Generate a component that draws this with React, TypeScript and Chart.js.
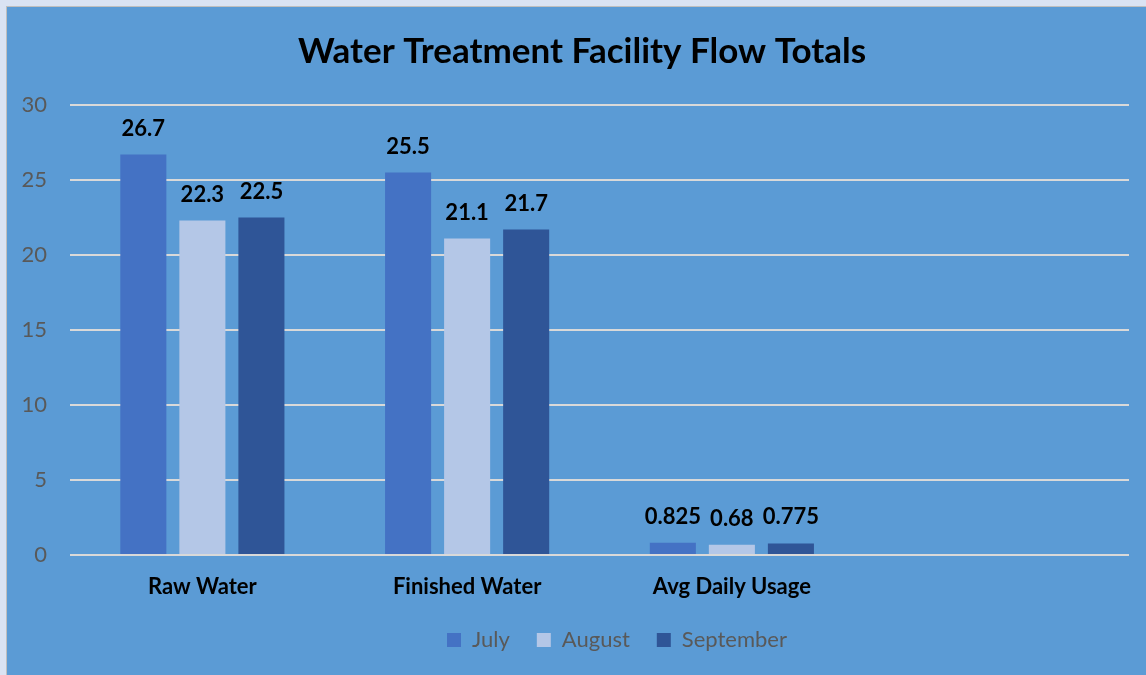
import React, { useEffect, useRef } from "react";
import { Chart, registerables } from "chart.js";

Chart.register(...registerables);

const categories = ["Raw Water", "Finished Water", "Avg Daily Usage", ""];
const seriesNames = ["July", "August", "September"];
const julyValues = [26.7, 25.5, 0.825, null];
const augustValues = [22.3, 21.1, 0.68, null];
const septemberValues = [22.5, 21.7, 0.775, null];
const seriesColors = ["#4472c4", "#b4c7e7", "#2f5597"];
const yMin = 0;
const yMax = 30;
const yStep = 5;
const titleText = "Water Treatment Facility Flow Totals";

const FONT = "Lato, 'Open Sans', sans-serif";

const valueLabels = {
  id: "valueLabels",
  afterDatasetsDraw(chart: any) {
    const ctx = chart.ctx;
    ctx.save();
    ctx.font = `bold 22px ${FONT}`;
    ctx.fillStyle = "#000000";
    ctx.textAlign = "center";
    ctx.textBaseline = "middle";
    chart.data.datasets.forEach((ds: any, i: number) => {
      const meta = chart.getDatasetMeta(i);
      meta.data.forEach((el: any, j: number) => {
        const v = ds.data[j];
        if (v == null) return;
        ctx.fillText(String(v), el.x, el.y - 26);
      });
    });
    ctx.restore();
  },
};

const centerShift = {
  id: "centerShift",
  beforeDraw(chart: any) {
    const shift = (box: any, target: number) => {
      if (!box) return;
      const c = (box.left + box.right) / 2;
      const d = target - c;
      box.left += d;
      box.right += d;
    };
    shift(chart.titleBlock, 575);
    shift(chart.legend, 610);
  },
};

export default function App() {
  const ref = useRef<HTMLCanvasElement>(null);

  useEffect(() => {
    if (!ref.current) return;
    const chart = new Chart(ref.current, {
      type: "bar",
      data: {
        labels: categories,
        datasets: [julyValues, augustValues, septemberValues].map((d, i) => ({
          label: seriesNames[i],
          data: d,
          backgroundColor: seriesColors[i],
          borderWidth: 0,
          categoryPercentage: 0.669,
          barPercentage: 0.78,
        })),
      },
      options: {
        responsive: false,
        maintainAspectRatio: false,
        animation: false,
        layout: { padding: { left: 0, right: 17, top: 0, bottom: 14 } },
        plugins: {
          title: {
            display: true,
            text: titleText,
            color: "#000000",
            font: { family: FONT, size: 35, weight: "bold", lineHeight: 1.2 },
            padding: { top: 24, bottom: 32 },
          },
          legend: {
            position: "bottom",
            labels: {
              color: "#595959",
              font: { family: FONT, size: 22 },
              boxWidth: 14,
              boxHeight: 14,
              padding: 27,
            },
          },
          tooltip: { enabled: false },
        },
        scales: {
          x: {
            grid: { display: false, drawTicks: false },
            border: { display: false },
            ticks: {
              color: "#000000",
              font: { family: FONT, size: 22, weight: "bold" },
              padding: 19,
              maxRotation: 0,
              autoSkip: false,
            },
            afterFit: (s: any) => {
              s.height = 47;
            },
          },
          y: {
            min: yMin,
            max: yMax,
            ticks: {
              stepSize: yStep,
              color: "#595959",
              font: { family: FONT, size: 22 },
              padding: 23,
            },
            grid: { color: "#d9d9d9", lineWidth: 2, drawTicks: false },
            border: { display: false },
            afterFit: (s: any) => {
              s.width = 63;
            },
          },
        },
      },
      plugins: [valueLabels, centerShift],
    } as any);
    return () => chart.destroy();
  }, []);

  return (
    <div
      style={{
        position: "absolute",
        left: 0,
        top: 0,
        width: 1146,
        height: 675,
        background: "#dae3f3",
        overflow: "hidden",
      }}
    >
      <div
        style={{
          position: "absolute",
          left: 6,
          top: 6,
          width: 1140,
          height: 669,
          borderTop: "1px solid #bfbfbf",
          borderLeft: "1px solid #bfbfbf",
          background: "#5b9bd5",
        }}
      >
        <canvas ref={ref} width={1139} height={668} style={{ display: "block" }} />
      </div>
    </div>
  );
}
